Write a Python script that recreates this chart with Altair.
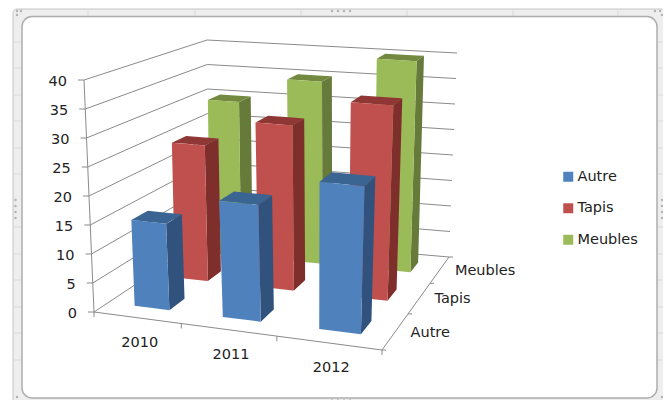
import altair as alt
import numpy as np
import pandas as pd

years = ["2010", "2011", "2012"]
series = ["Autre", "Tapis", "Meubles"]
autre = [15, 20, 25]
tapis = [25, 30, 35]
meubles = [30, 35, 40]
values = [autre, tapis, meubles]
y_ticks = [0, 5, 10, 15, 20, 25, 30, 35, 40]
y_max = 40
front_colors = ["#4F81BD", "#C0504D", "#9BBB59"]
side_colors = ["#30527C", "#7E2F2C", "#667A3A"]
top_colors = ["#3A6491", "#8F3734", "#72893F"]
seams_x = [88, 195, 301, 407, 513, 618]
seams_y = [42, 68, 95, 121, 148, 174, 227, 254, 280, 307, 333, 360]
handle_x = [332, 338, 344, 350]
handle_y = [200, 206, 212, 218]
corner_dots = [(17, 11), (21, 11), (17, 15), (655, 11), (660, 11), (662, 15),
               (17, 397), (662, 397)]

# image-pixel frame of the canvas
W, H = 655, 392
OX, OY = 8, 8

# perspective box: floor and top plane, corners FL, FR, BR, BL
floor_c = [(94, 312), (382, 350), (449, 257), (208.5, 236)]
top_c = [(84, 80), (392, 108), (457, 53), (207, 40)]


def homography(c):
    (x0, y0), (x1, y1), (x2, y2), (x3, y3) = c
    dx1, dx2, sx = x1 - x2, x3 - x2, x0 - x1 + x2 - x3
    dy1, dy2, sy = y1 - y2, y3 - y2, y0 - y1 + y2 - y3
    den = dx1 * dy2 - dx2 * dy1
    g = (sx * dy2 - dx2 * sy) / den
    h = (dx1 * sy - sx * dy1) / den
    return np.array([[x1 - x0 + g * x1, x3 - x0 + h * x3, x0],
                     [y1 - y0 + g * y1, y3 - y0 + h * y3, y0],
                     [g, h, 1.0]])


HF, HT = homography(floor_c), homography(top_c)


def proj(u, v, val=0.0):
    a = HF @ [u, v, 1]
    b = HT @ [u, v, 1]
    a, b = a[:2] / a[2], b[:2] / b[2]
    p = a + (b - a) * (val / y_max)
    return float(p[0]), float(p[1])


def poly_rows(pts):
    xs = sorted({round(p[0], 2) for p in pts})
    n = len(pts)
    rows = []
    for x in xs:
        ys = []
        for k in range(n):
            (x0, y0), (x1, y1) = pts[k], pts[(k + 1) % n]
            x0, x1 = round(x0, 2), round(x1, 2)
            if min(x0, x1) <= x <= max(x0, x1):
                if x0 == x1:
                    ys += [y0, y1]
                else:
                    ys.append(y0 + (y1 - y0) * (x - x0) / (x1 - x0))
        rows.append((x, min(ys), max(ys)))
    return rows


BAR_U = 0.135
BAR_V = 0.125
U_SHIFT = 0.006
faces = []
fid = 0
for j in reversed(range(3)):
    for i in range(3):
        val = values[j][i]
        u0, u1 = (i + .5) / 3 - BAR_U / 2 + U_SHIFT, (i + .5) / 3 + BAR_U / 2 + U_SHIFT
        v0, v1 = (j + .5) / 3 - BAR_V / 2, (j + .5) / 3 + BAR_V / 2
        quads = {
            "side": [proj(u1, v0), proj(u1, v1), proj(u1, v1, val), proj(u1, v0, val)],
            "top": [proj(u0, v0, val), proj(u1, v0, val), proj(u1, v1, val), proj(u0, v1, val)],
            "front": [proj(u0, v0), proj(u1, v0), proj(u1, v0, val), proj(u0, v0, val)],
        }
        for kind, q in quads.items():
            name = series[j] if kind == "front" else f"{series[j]} {kind}"
            for x, yl, yh in poly_rows(q):
                faces.append({"x": x, "y": yl, "y2": yh, "face": f"f{fid:03d}", "name": name})
            fid += 1
faces = pd.DataFrame(faces)

lines = []


def add_line(key, a, b):
    lines.append({"x": a[0], "y": a[1], "k": key, "o": 0})
    lines.append({"x": b[0], "y": b[1], "k": key, "o": 1})


for t in y_ticks:
    fl, bl, br = proj(0, 0, t), proj(0, 1, t), proj(1, 1, t)
    add_line(f"l{t}", fl, bl)
    add_line(f"b{t}", bl, br)
    add_line(f"t{t}", fl, (fl[0] - 6, fl[1]))
add_line("yaxis", proj(0, 0, 0), proj(0, 0, y_max))
add_line("front", proj(0, 0), proj(1, 0))
add_line("right", proj(1, 0), proj(1, 1))
for k in range(4):
    p = proj(k / 3, 0)
    add_line(f"fx{k}", p, (p[0], p[1] + 5))
    q = proj(1, k / 3)
    add_line(f"rx{k}", q, (q[0] + 4, q[1]))
lines = pd.DataFrame(lines)

ylab = pd.DataFrame([{"x": proj(0, 0, t)[0] - 17, "y": proj(0, 0, t)[1] + 1.5, "t": str(t)} for t in y_ticks])
xlab = pd.DataFrame([{"x": proj((i + .5) / 3, 0)[0] + 3, "y": proj((i + .5) / 3, 0)[1] + 25.5, "t": years[i]} for i in range(3)])
slab = pd.DataFrame([{"x": proj(1, (j + .5) / 3)[0] + 15, "y": proj(1, (j + .5) / 3)[1] + 1.5, "t": series[j]} for j in range(3)])

X = alt.X("x:Q", axis=None, scale=alt.Scale(domain=[OX, OX + W], nice=False, zero=False))
Y = alt.Y("y:Q", axis=None, scale=alt.Scale(domain=[OY + H, OY], nice=False, zero=False))

frame = pd.DataFrame([{"x": 13, "x2": 665, "y": 9, "y2": 406}])
inner = pd.DataFrame([{"x": 22, "x2": 657, "y": 16.5, "y2": 398}])
outer_l = alt.Chart(frame).mark_rect(fill="#EEEEEE", stroke="#C4C4C4", strokeWidth=1, cornerRadius=4).encode(
    x=X, x2="x2:Q", y=Y, y2="y2:Q")
inner_l = alt.Chart(inner).mark_rect(fill="#FFFFFF", stroke="#ADADAD", strokeWidth=1.5, cornerRadius=10).encode(
    x=X, x2="x2:Q", y=Y, y2="y2:Q")

seam_rows = []
for s in seams_x:
    seam_rows.append({"x": s, "y": 9, "k": f"tx{s}", "o": 0})
    seam_rows.append({"x": s, "y": 16, "k": f"tx{s}", "o": 1})
for s in seams_y:
    for side, a, b in (("l", 13, 22), ("r", 657, 665)):
        seam_rows.append({"x": a, "y": s, "k": f"{side}{s}", "o": 0})
        seam_rows.append({"x": b, "y": s, "k": f"{side}{s}", "o": 1})
seam_l = alt.Chart(pd.DataFrame(seam_rows)).mark_line(color="#DADADA", strokeWidth=1).encode(
    x=X, y=Y, detail="k:N", order="o:Q")

dots = [{"x": h, "y": 11} for h in handle_x] + [{"x": h, "y": 400.5} for h in handle_x]
dots += [{"x": 15.5, "y": h} for h in handle_y] + [{"x": 662, "y": h} for h in handle_y]
dots += [{"x": a, "y": b} for a, b in corner_dots]
dot_l = alt.Chart(pd.DataFrame(dots)).mark_point(filled=True, color="#B4B4B4", size=6, opacity=1).encode(x=X, y=Y)

line_l = alt.Chart(lines).mark_line(color="#8a8a8a", strokeWidth=1).encode(
    x=X, y=Y, detail="k:N", order="o:Q")

names = series + [f"{s} side" for s in series] + [f"{s} top" for s in series]
cols = front_colors + side_colors + top_colors
area_l = alt.Chart(faces).mark_area(opacity=1, interpolate="linear").encode(
    x=X, y=Y, y2="y2:Q", detail="face:N",
    color=alt.Color("name:N", scale=alt.Scale(domain=names, range=cols),
                    legend=alt.Legend(values=series, title=None, orient="none", legendX=553, legendY=161.5,
                                      symbolType="square", symbolSize=100, symbolStrokeWidth=0,
                                      labelFontSize=14.5, labelFont="DejaVu Sans", labelColor="#222222",
                                      rowPadding=16.5, labelOffset=2, symbolOpacity=1)),
    order=alt.Order("face:N"))


def txt(df, align):
    return alt.Chart(df).mark_text(font="DejaVu Sans", fontSize=14.5, color="#222222", align=align,
                                   baseline="middle").encode(x=X, y=Y, text="t:N")


chart = alt.layer(
    outer_l, seam_l, dot_l, inner_l, line_l, area_l, txt(ylab, "right"), txt(xlab, "center"), txt(slab, "left")
).properties(width=W, height=H, padding=0, autosize=alt.AutoSizeParams(type="none")).configure_view(stroke=None)

chart.save("out.html", embed_options={"renderer": "svg", "actions": False})
